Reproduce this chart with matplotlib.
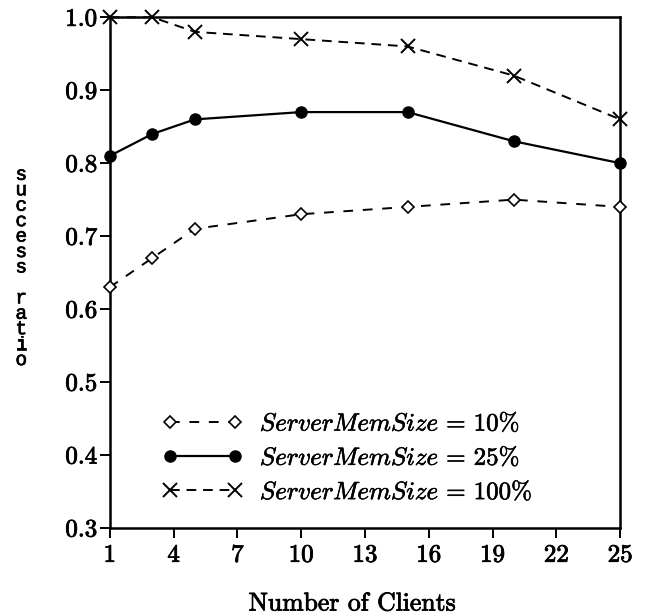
import matplotlib
matplotlib.use("Agg")
import matplotlib.pyplot as plt
import matplotlib.patheffects as pe

plt.rcParams['font.family'] = ['cmr10', 'DejaVu Serif']
plt.rcParams['mathtext.fontset'] = 'cm'
plt.rcParams['axes.formatter.use_mathtext'] = True

clients = [1, 3, 5, 10, 15, 20, 25]
mem10 = [0.63, 0.67, 0.71, 0.73, 0.74, 0.75, 0.74]
mem25 = [0.81, 0.84, 0.86, 0.87, 0.87, 0.83, 0.80]
mem100 = [1.00, 1.00, 0.98, 0.97, 0.96, 0.92, 0.86]
labels = [r'$ServerMemSize\,=\,10\%$', r'$ServerMemSize\,=\,25\%$', r'$ServerMemSize\,=\,100\%$']
xticks = [1, 4, 7, 10, 13, 16, 19, 22, 25]
yticks = [0.3, 0.4, 0.5, 0.6, 0.7, 0.8, 0.9, 1.0]

thick = [pe.withStroke(linewidth=0.6, foreground='black')]

fig = plt.figure(figsize=(6.46, 6.16), dpi=100)
ax = fig.add_axes([0.170, 0.143, 0.790, 0.829])

ax.plot(clients, mem10, color='black', lw=1.4, dashes=(5, 5), marker='D', ms=6.5,
        mfc='white', mec='black', mew=1.2, label=labels[0], clip_on=False, zorder=3)
ax.plot(clients, mem25, color='black', lw=1.6, marker='o', ms=8,
        mfc='black', mec='black', label=labels[1], clip_on=False, zorder=3)
ax.plot(clients, mem100, color='black', lw=1.4, dashes=(5, 3.5), marker='x', ms=9.5,
        mew=1.4, label=labels[2], clip_on=False, zorder=3)

ax.set_xlim(1, 25)
ax.set_ylim(0.3, 1.0)
ax.set_xticks(xticks)
ax.set_xticklabels([str(v) for v in xticks])
ax.set_yticks(yticks)
ax.set_yticklabels([f'{v:.1f}' for v in yticks])
ax.tick_params(direction='out', length=7, width=1.4, labelsize=18)
ax.tick_params(axis='y', pad=2)
ax.tick_params(axis='x', pad=5)
for lab in ax.get_xticklabels() + ax.get_yticklabels():
    lab.set_path_effects(thick)
for s in ax.spines.values():
    s.set_linewidth(1.8)

xl = ax.set_xlabel('Number of Clients', fontsize=18.5)
ax.xaxis.set_label_coords(0.475, -0.125)
xl.set_path_effects(thick)

fig.text(0.033, 0.565, '\n'.join('success ratio'), fontsize=14, ha='center', va='center',
         family='Liberation Mono', linespacing=0.88,
         path_effects=[pe.withStroke(linewidth=0.5, foreground='black')])

leg = ax.legend(loc='center left', bbox_to_anchor=(0.103, 0.137), frameon=False,
                fontsize=18, handlelength=3.2, handletextpad=0.7, labelspacing=0.42,
                numpoints=2, borderpad=0, borderaxespad=0)
for t in leg.get_texts():
    t.set_path_effects([pe.withStroke(linewidth=0.4, foreground='black')])

fig.savefig('out.png', dpi=100)
